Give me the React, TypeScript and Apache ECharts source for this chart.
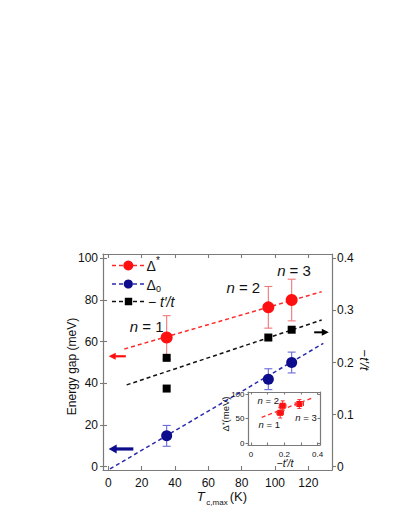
import React, { useEffect, useRef } from "react";
import * as echarts from "echarts";

// ---- data ----
const xTicks = [0, 20, 40, 60, 80, 100, 120];
const yTicks = [0, 20, 40, 60, 80, 100];
const y2Ticks = [0, 0.1, 0.2, 0.3, 0.4];

const tc = [35, 96, 110];
const deltaStar = [62, 76.5, 80];
const deltaStarErr = [10.5, 10, 10];
const delta0 = [14.8, 42, 50];
const delta0Err = [5, 5, 5];

const tPrimeX = [35, 35, 96, 110];
const tPrime = [0.209, 0.15, 0.248, 0.263];

const fitStarX = [9.6, 128];
const fitStarY = [56.5, 84];
const fit0X = [1, 129];
const fit0Y = [-1.1, 59.2];
const fitTX = [11, 128];
const fitTY = [0.157, 0.2816];

// arrows: [xFrom, xTo, y]
const arrowStar = [10.5, 0.2, 53];
const arrow0 = [15, 0.2, 8.5];
const arrowT = [123.5, 132.3, 0.258];

// inset
const insetXTicks = [0, 0.1, 0.2, 0.3, 0.4];
const insetXLabels = [0, 0.2, 0.4];
const insetYTicks = [0, 50, 100];
const insetX = [0.175, 0.19, 0.29];
const insetY = [62, 76.5, 80];
const insetXErr = [0.02, 0.02, 0.025];
const insetYErr = [10.5, 10, 9];
const insetFitX = [0.064, 0.374];
const insetFitY = [53, 93];

const FONT = "'Liberation Sans', Arial, sans-serif";
const AXIS = "#7a7a7a";
const RED = "#ff1010";
const RED_LINE = "#ff2a2a";
const RED_ERR = "#f07878";
const BLUE = "#0c0c8c";
const BLUE_LINE = "#2b2bb0";
const BLUE_ERR = "#6a6ad8";

function errorBars(color: string, yAxisIndex: number, data: number[][]) {
  return {
    type: "custom",
    xAxisIndex: 0,
    yAxisIndex,
    data,
    z: 3,
    renderItem: (_p: any, api: any) => {
      const x = api.value(0);
      const y = api.value(1);
      const e = api.value(2);
      const t = api.coord([x, y + e]);
      const b = api.coord([x, y - e]);
      const w = 4;
      const st = { stroke: color, lineWidth: 1.1 };
      return {
        type: "group",
        children: [
          { type: "line", shape: { x1: t[0], y1: t[1], x2: b[0], y2: b[1] }, style: st },
          { type: "line", shape: { x1: t[0] - w, y1: t[1], x2: t[0] + w, y2: t[1] }, style: st },
          { type: "line", shape: { x1: b[0] - w, y1: b[1], x2: b[0] + w, y2: b[1] }, style: st },
        ],
      };
    },
  };
}

function arrowSeries(color: string, yAxisIndex: number, a: number[], lw: number, hl: number, hw: number) {
  return {
    type: "custom",
    xAxisIndex: 0,
    yAxisIndex,
    data: [a],
    z: 4,
    renderItem: (_p: any, api: any) => {
      const p0 = api.coord([api.value(0), api.value(2)]);
      const p1 = api.coord([api.value(1), api.value(2)]);
      const dir = p1[0] > p0[0] ? 1 : -1;
      const bx = p1[0] - dir * hl;
      return {
        type: "group",
        children: [
          { type: "line", shape: { x1: p0[0], y1: p0[1], x2: bx + dir * 1, y2: p1[1] }, style: { stroke: color, lineWidth: lw } },
          {
            type: "polygon",
            shape: { points: [[p1[0], p1[1]], [bx, p1[1] - hw], [bx, p1[1] + hw]] },
            style: { fill: color },
          },
        ],
      };
    },
  };
}

function fitLine(color: string, yAxisIndex: number, xs: number[], ys: number[], xi = 0, width = 1.5) {
  return {
    type: "line",
    xAxisIndex: xi,
    yAxisIndex,
    data: xs.map((x, i) => [x, ys[i]]),
    symbol: "none",
    lineStyle: { color, width, type: [4, 3] },
    z: 2,
    silent: true,
  };
}

export default function App() {
  const ref = useRef<HTMLDivElement>(null);
  useEffect(() => {
    if (!ref.current) return;
    const chart = echarts.init(ref.current, undefined, { renderer: "svg" });

    const lbl = { color: "#111", fontSize: 12, fontFamily: FONT };
    const ilbl = { color: "#111", fontSize: 8, fontFamily: FONT };
    const line = { show: true, onZero: false, lineStyle: { color: AXIS, width: 1.2 } };
    const noLine = { show: false, onZero: false };
    const tickSt = { color: AXIS, width: 1.1 };

    const option: any = {
      animation: false,
      backgroundColor: "#fff",
      textStyle: { fontFamily: FONT },
      grid: [
        { left: 103, right: 77, top: 254, bottom: 59, outerBoundsMode: "none" },
        {
          left: 248, right: 89, top: 392, bottom: 84, outerBoundsMode: "none",
          show: true, backgroundColor: "#fff", borderWidth: 0, z: 5,
        },
      ],
      xAxis: [
        {
          type: "value", gridIndex: 0, position: "bottom", min: -3.2, max: 134.2,
          axisLine: line,
          axisTick: { inside: true, length: 4, customValues: xTicks, lineStyle: tickSt },
          axisLabel: { ...lbl, margin: 7, customValues: xTicks },
          splitLine: { show: false },
        },
        {
          type: "value", gridIndex: 0, position: "top", min: -3.2, max: 134.2,
          axisLine: line,
          axisTick: { inside: true, length: 4, customValues: xTicks, lineStyle: tickSt },
          axisLabel: { show: false },
          splitLine: { show: false },
        },
        {
          type: "value", gridIndex: 1, position: "bottom", min: -0.018, max: 0.414,
          axisLine: line,
          axisTick: { inside: true, length: 2.5, customValues: insetXTicks, lineStyle: tickSt },
          axisLabel: { ...ilbl, margin: 5, customValues: insetXLabels },
          splitLine: { show: false },
          z: 6,
        },
        {
          type: "value", gridIndex: 1, position: "top", min: -0.018, max: 0.414,
          axisLine: line,
          axisTick: { inside: true, length: 2.5, customValues: insetXTicks, lineStyle: tickSt },
          axisLabel: { show: false },
          splitLine: { show: false },
          z: 6,
        },
      ],
      yAxis: [
        {
          type: "value", gridIndex: 0, position: "left", min: -1.6, max: 102.1,
          axisLine: line,
          axisTick: { inside: false, length: 3, customValues: yTicks, lineStyle: tickSt },
          axisLabel: { ...lbl, margin: 5, customValues: yTicks },
          splitLine: { show: false },
        },
        {
          type: "value", gridIndex: 0, position: "right", min: -0.0064, max: 0.4084,
          axisLine: line,
          axisTick: { inside: false, length: 4, customValues: y2Ticks, lineStyle: tickSt },
          axisLabel: { ...lbl, margin: 5, customValues: y2Ticks },
          splitLine: { show: false },
        },
        {
          type: "value", gridIndex: 0, position: "left", min: -1.6, max: 102.1,
          axisLine: noLine,
          axisTick: { inside: true, length: 4, customValues: yTicks, lineStyle: tickSt },
          axisLabel: { show: false },
          splitLine: { show: false },
        },
        {
          type: "value", gridIndex: 1, position: "left", min: -3.5, max: 104.5,
          axisLine: line,
          axisTick: { inside: false, length: 2.5, customValues: insetYTicks, lineStyle: tickSt },
          axisLabel: { ...ilbl, margin: 3.5, customValues: insetYTicks },
          splitLine: { show: false },
          z: 6,
        },
        {
          type: "value", gridIndex: 1, position: "right", min: -3.5, max: 104.5,
          axisLine: line,
          axisTick: { inside: true, length: 2.5, customValues: insetYTicks, lineStyle: tickSt },
          axisLabel: { show: false },
          splitLine: { show: false },
          z: 6,
        },
      ],
      series: [
        fitLine(RED_LINE, 0, fitStarX, fitStarY),
        fitLine(BLUE_LINE, 0, fit0X, fit0Y),
        fitLine("#111", 1, fitTX, fitTY),
        errorBars(RED_ERR, 0, tc.map((x, i) => [x, deltaStar[i], deltaStarErr[i]])),
        errorBars(BLUE_ERR, 0, tc.map((x, i) => [x, delta0[i], delta0Err[i]])),
        {
          type: "scatter", xAxisIndex: 0, yAxisIndex: 0, z: 4,
          data: tc.map((x, i) => [x, deltaStar[i]]),
          symbol: "circle", symbolSize: 12, itemStyle: { color: RED, opacity: 1 },
        },
        {
          type: "scatter", xAxisIndex: 0, yAxisIndex: 0, z: 4,
          data: tc.map((x, i) => [x, delta0[i]]),
          symbol: "circle", symbolSize: 11, itemStyle: { color: BLUE, opacity: 1 },
        },
        {
          type: "scatter", xAxisIndex: 0, yAxisIndex: 1, z: 4,
          data: tPrimeX.map((x, i) => [x, tPrime[i]]),
          symbol: "rect", symbolSize: 8, itemStyle: { color: "#000", opacity: 1 },
        },
        arrowSeries(RED, 0, arrowStar, 2.2, 7, 3.5),
        arrowSeries(BLUE, 0, arrow0, 3.2, 8, 4.5),
        arrowSeries("#000", 1, arrowT, 2, 7, 3.5),
        // inset
        { ...fitLine(RED_LINE, 3, insetFitX, insetFitY, 2, 1.3), z: 7 },
        {
          type: "custom", xAxisIndex: 2, yAxisIndex: 3, z: 7,
          data: insetX.map((x, i) => [x, insetY[i], insetXErr[i], insetYErr[i]]),
          renderItem: (_p: any, api: any) => {
            const x = api.value(0), y = api.value(1), ex = api.value(2), ey = api.value(3);
            const t = api.coord([x, y + ey]);
            const b = api.coord([x, y - ey]);
            const l = api.coord([x - ex, y]);
            const r = api.coord([x + ex, y]);
            const c = api.coord([x, y]);
            const w = 2;
            const st = { stroke: "#f03030", lineWidth: 1 };
            return {
              type: "group",
              children: [
                { type: "line", shape: { x1: t[0], y1: t[1], x2: b[0], y2: b[1] }, style: st },
                { type: "line", shape: { x1: t[0] - w, y1: t[1], x2: t[0] + w, y2: t[1] }, style: st },
                { type: "line", shape: { x1: b[0] - w, y1: b[1], x2: b[0] + w, y2: b[1] }, style: st },
                { type: "line", shape: { x1: l[0], y1: l[1], x2: r[0], y2: r[1] }, style: st },
                { type: "line", shape: { x1: l[0], y1: l[1] - w, x2: l[0], y2: l[1] + w }, style: st },
                { type: "line", shape: { x1: r[0], y1: r[1] - w, x2: r[0], y2: r[1] + w }, style: st },
                { type: "rect", shape: { x: c[0] - 3, y: c[1] - 3, width: 6, height: 6 }, style: { fill: RED } },
              ],
            };
          },
        },
      ],
      graphic: [
        // legend
        { type: "line", shape: { x1: 112, y1: 265.5, x2: 145, y2: 265.5 }, style: { stroke: RED_LINE, lineWidth: 1.5, lineDash: [4, 3] }, z: 10 },
        { type: "circle", shape: { cx: 128.3, cy: 265.5, r: 5 }, style: { fill: RED }, z: 10 },
        { type: "text", x: 146.5, y: 266, style: { text: "Δ", fontSize: 14, fontFamily: FONT, fill: "#111", verticalAlign: "middle" }, z: 10 },
        { type: "text", x: 156, y: 260, style: { text: "*", fontSize: 10, fontFamily: FONT, fill: "#111", verticalAlign: "middle" }, z: 10 },
        { type: "line", shape: { x1: 112, y1: 284, x2: 145, y2: 284 }, style: { stroke: BLUE_LINE, lineWidth: 1.5, lineDash: [4, 3] }, z: 10 },
        { type: "circle", shape: { cx: 128.3, cy: 284, r: 4.6 }, style: { fill: BLUE }, z: 10 },
        { type: "text", x: 146.5, y: 284.5, style: { text: "Δ", fontSize: 14, fontFamily: FONT, fill: "#111", verticalAlign: "middle" }, z: 10 },
        { type: "text", x: 156, y: 289, style: { text: "0", fontSize: 9, fontFamily: FONT, fill: "#111", verticalAlign: "middle" }, z: 10 },
        { type: "line", shape: { x1: 112, y1: 301.5, x2: 145, y2: 301.5 }, style: { stroke: "#111", lineWidth: 1.5, lineDash: [4, 3] }, z: 10 },
        { type: "rect", shape: { x: 124.8, y: 297.8, width: 7.4, height: 7.4 }, style: { fill: "#000" }, z: 10 },
        {
          type: "text", x: 148, y: 301.5, z: 10,
          style: {
            text: "− {i|t′/t}", fontSize: 14, fontFamily: FONT, fill: "#111", verticalAlign: "middle",
            rich: { i: { fontStyle: "italic", fontSize: 14, fontFamily: FONT, fill: "#111" } },
          },
        },
        // n labels
        ...[
          [146.7, 326.7, "1"],
          [243.3, 287.7, "2"],
          [294, 270, "3"],
        ].map(([x, y, n]) => ({
          type: "text", x, y, z: 10,
          style: {
            text: "{i|n} = " + n, fontSize: 15, fontFamily: FONT, fill: "#111", align: "center", verticalAlign: "middle",
            rich: { i: { fontStyle: "italic", fontSize: 15, fontFamily: FONT } },
          },
        })),
        ...[
          [268.3, 400.3, "2"],
          [269.3, 424, "1"],
          [306, 417.3, "3"],
        ].map(([x, y, n]) => ({
          type: "text", x, y, z: 20,
          style: {
            text: "{i|n} = " + n, fontSize: 9.5, fontFamily: FONT, fill: "#111", align: "center", verticalAlign: "middle",
            rich: { i: { fontStyle: "italic", fontSize: 9.5, fontFamily: FONT } },
          },
        })),
        // axis names
        {
          type: "text", x: 71.5, y: 366.5, rotation: Math.PI / 2, z: 10,
          style: { text: "Energy gap (meV)", fontSize: 12, fontFamily: FONT, fill: "#111", align: "center", verticalAlign: "middle" },
        },
        {
          type: "text", x: 364, y: 360, rotation: -Math.PI / 2, z: 10,
          style: {
            text: "−{i|t′/t}", fontSize: 13, fontFamily: FONT, fill: "#111", align: "center", verticalAlign: "middle",
            rich: { i: { fontStyle: "italic", fontSize: 13, fontFamily: FONT } },
          },
        },
        { type: "text", x: 200.7, y: 496.7, z: 10, style: { text: "T", fontSize: 13, fontStyle: "italic", fontFamily: FONT, fill: "#111", align: "center", verticalAlign: "middle" } },
        { type: "text", x: 217, y: 502, z: 10, style: { text: "c,max", fontSize: 8, fontFamily: FONT, fill: "#111", align: "center", verticalAlign: "middle" } },
        { type: "text", x: 238.3, y: 496.7, z: 10, style: { text: "(K)", fontSize: 13, fontFamily: FONT, fill: "#111", align: "center", verticalAlign: "middle" } },
        // inset axis names
        {
          type: "text", x: 225.5, y: 414, rotation: Math.PI / 2, z: 20,
          style: {
            text: "Δ{s|*}(meV)", fontSize: 9.5, fontFamily: FONT, fill: "#111", align: "center", verticalAlign: "middle",
            rich: { s: { fontSize: 7, verticalAlign: "top", fontFamily: FONT } },
          },
        },
        {
          type: "text", x: 285, y: 463, z: 20,
          style: {
            text: "−{i|t′/t}", fontSize: 10.5, fontFamily: FONT, fill: "#111", align: "center", verticalAlign: "middle",
            rich: { i: { fontStyle: "italic", fontSize: 10.5, fontFamily: FONT } },
          },
        },
      ],
    };
    chart.setOption(option);
    return () => chart.dispose();
  }, []);
  return (
    <div
      ref={ref}
      style={{ position: "absolute", left: 0, top: 0, width: 409, height: 529, background: "#fff" }}
    />
  );
}
